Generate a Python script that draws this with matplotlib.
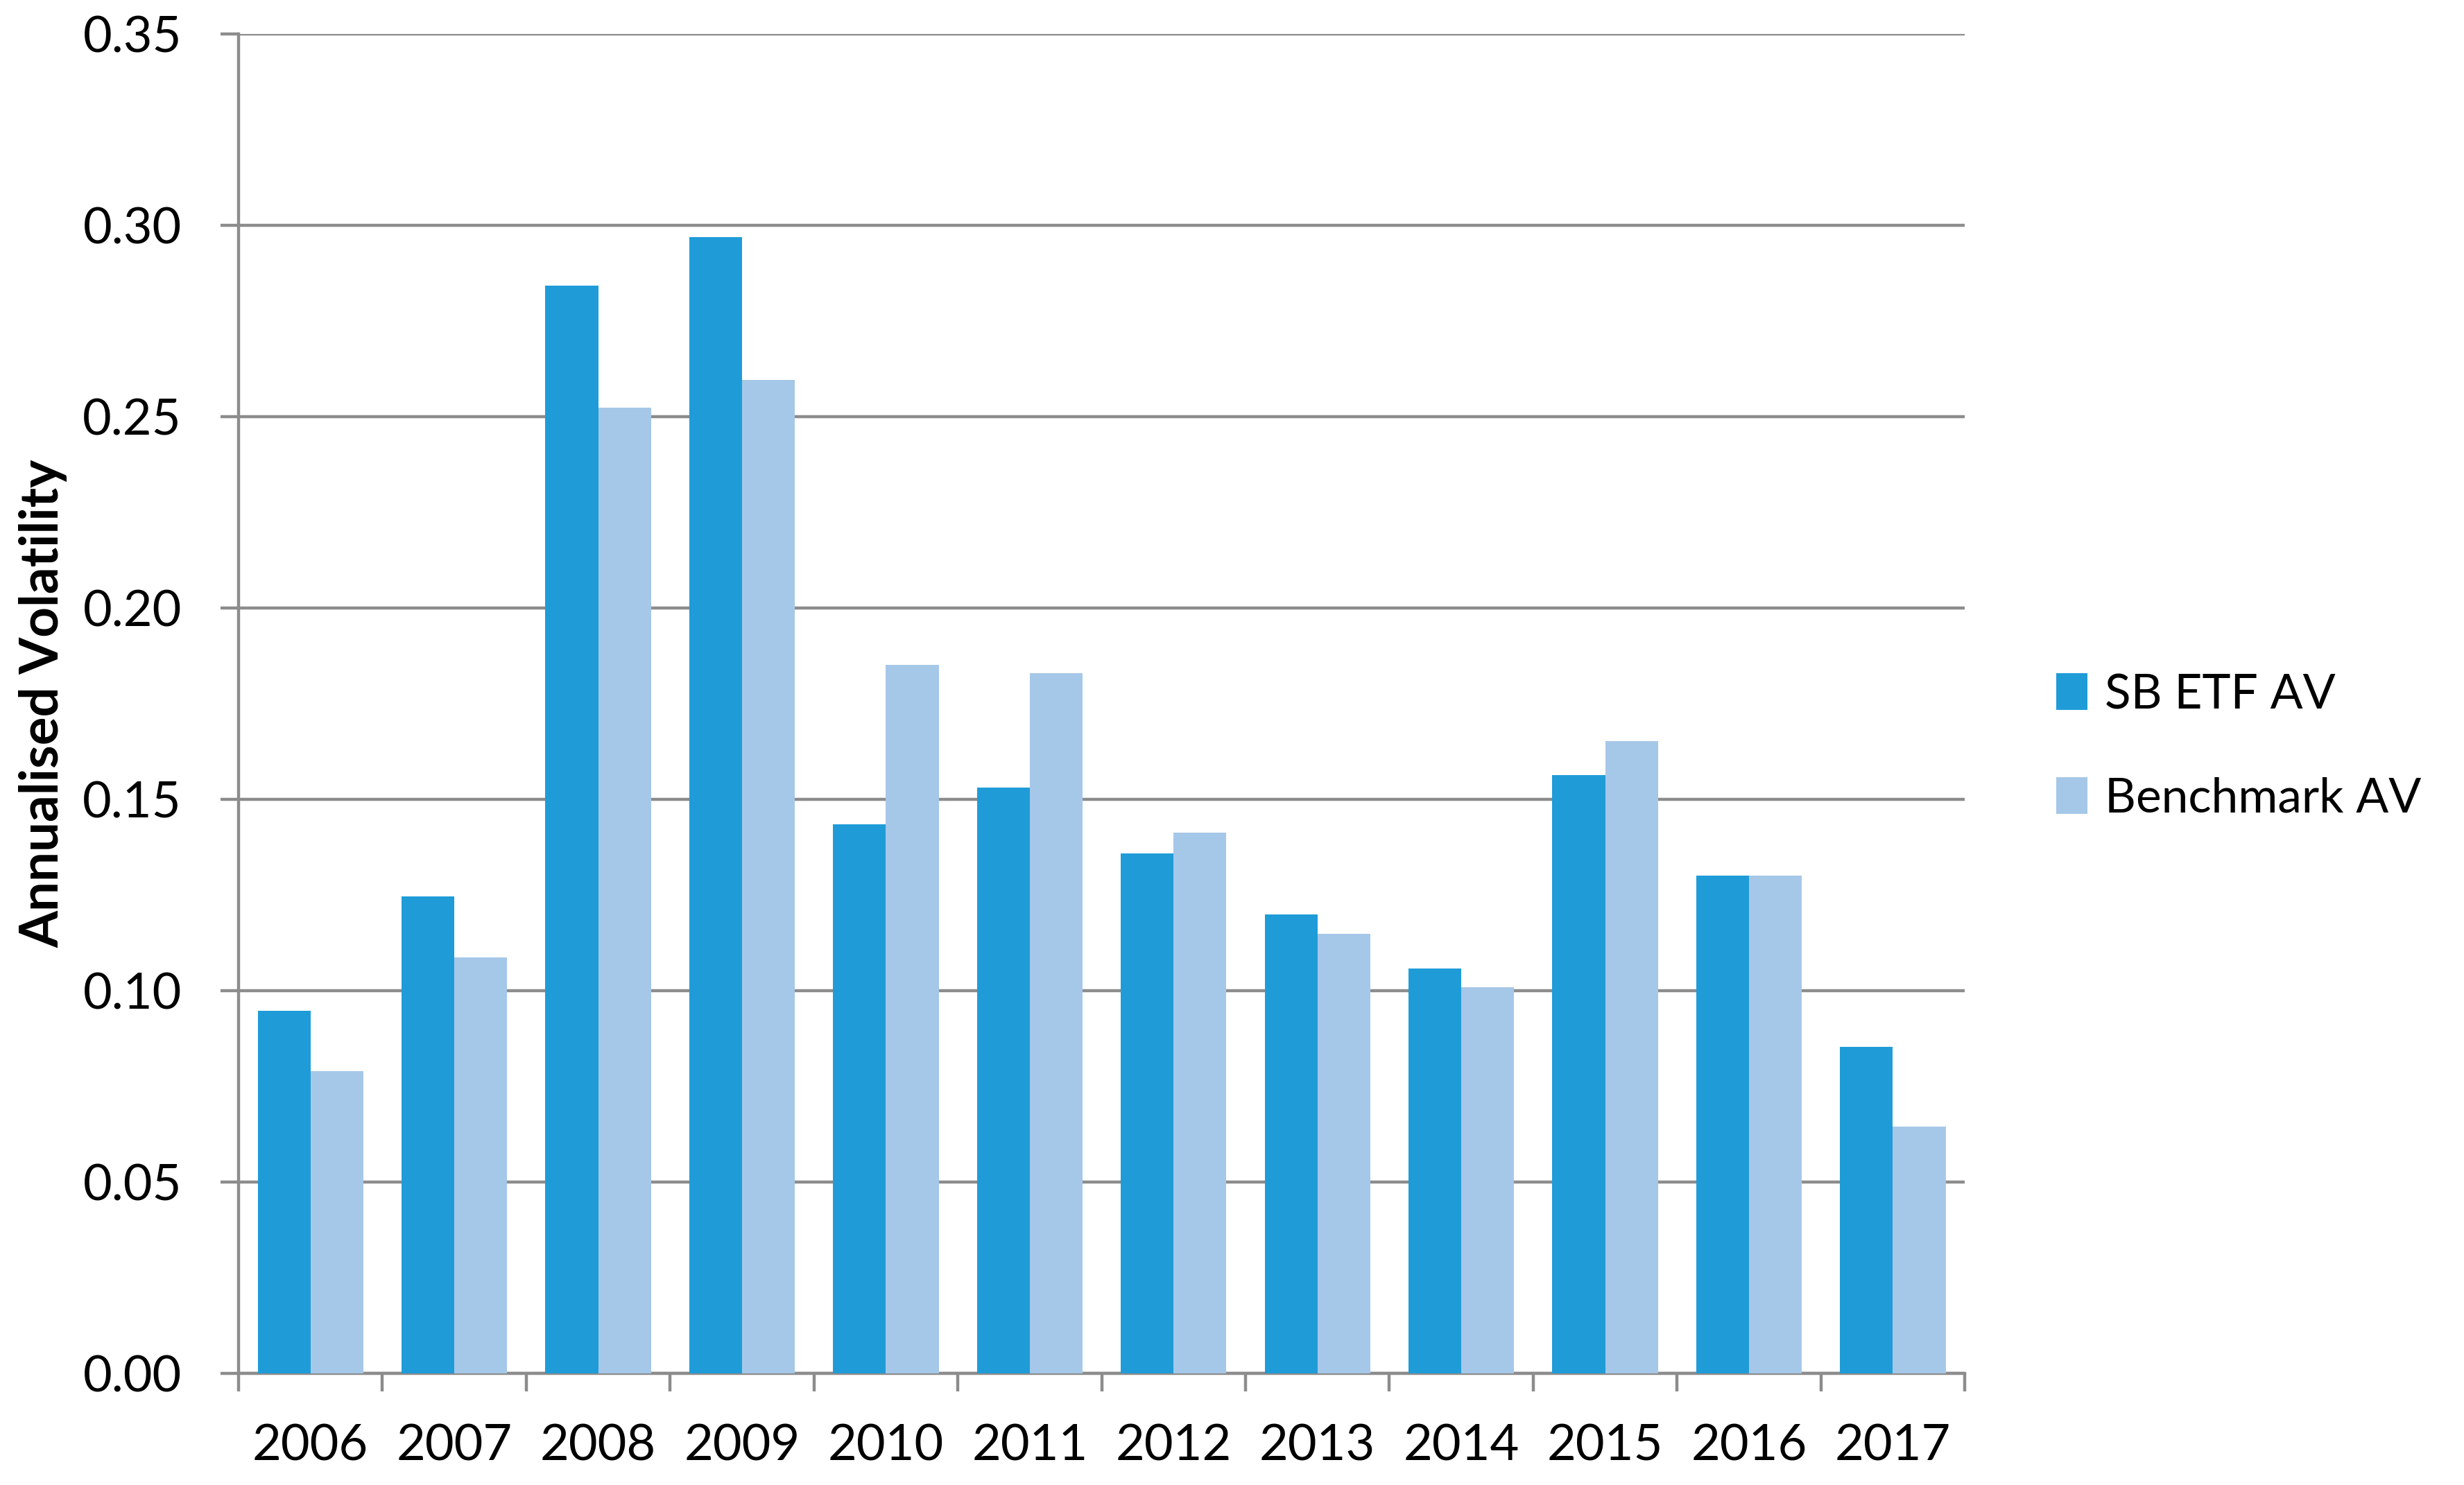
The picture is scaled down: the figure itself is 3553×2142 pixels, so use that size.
import numpy as np
import matplotlib.pyplot as plt

years = ["2006", "2007", "2008", "2009", "2010", "2011",
         "2012", "2013", "2014", "2015", "2016", "2017"]
sb_etf_av = [0.0947, 0.1247, 0.2843, 0.2970, 0.1435, 0.1530,
             0.1358, 0.1200, 0.1058, 0.1563, 0.1300, 0.0853]
benchmark_av = [0.0790, 0.1087, 0.2523, 0.2596, 0.1852, 0.1830,
                0.1413, 0.1149, 0.1009, 0.1653, 0.1300, 0.0644]

plt.rcParams['font.family'] = ['Lato', 'DejaVu Sans']

GRAY = '#8c8c8c'
fig = plt.figure(figsize=(35.53, 21.42), dpi=100)
ax = fig.add_axes([0.0968, 0.0752, 0.7006, 0.9019])

x = np.arange(len(years)) + 0.5
w = 0.367
ax.bar(x - w / 2, sb_etf_av, width=w, color='#1f9cd8', label='SB ETF AV', zorder=3)
ax.bar(x + w / 2, benchmark_av, width=w, color='#a6c8e8', label='Benchmark AV', zorder=3)

ax.set_xlim(0, len(years))
ax.set_ylim(0, 0.35)
ax.set_yticks(np.arange(0, 0.351, 0.05))
ax.set_yticklabels([f"{v:.2f}" for v in np.arange(0, 0.351, 0.05)])
ax.set_xticks(np.arange(0, len(years) + 1))
ax.set_xticklabels([])
ax.set_xticks(x, minor=True)
ax.set_xticklabels(years, minor=True)

# grid behind the bars
ax.grid(axis='y', color=GRAY, linewidth=3.2, zorder=0)
ax.set_axisbelow(True)
for s in ['top', 'right']:
    ax.spines[s].set_visible(False)
for s in ['left', 'bottom']:
    ax.spines[s].set_color(GRAY)
    ax.spines[s].set_linewidth(3.2)

ax.tick_params(axis='y', which='major', length=19, width=3.2, color=GRAY,
               labelsize=52, pad=40)
ax.tick_params(axis='x', which='major', length=19, width=3.2, color=GRAY)
ax.tick_params(axis='x', which='minor', length=0, labelsize=52, pad=52)

ax.set_ylabel("Annualised Volatility", fontsize=55, fontweight='bold', labelpad=16)

fig.legend(loc='center left', bbox_to_anchor=(0.817, 0.497), frameon=False,
           fontsize=50, handlelength=0.65, handleheight=0.8,
           handletextpad=0.35, labelspacing=1.25)

fig.savefig('out.png', dpi=100)
